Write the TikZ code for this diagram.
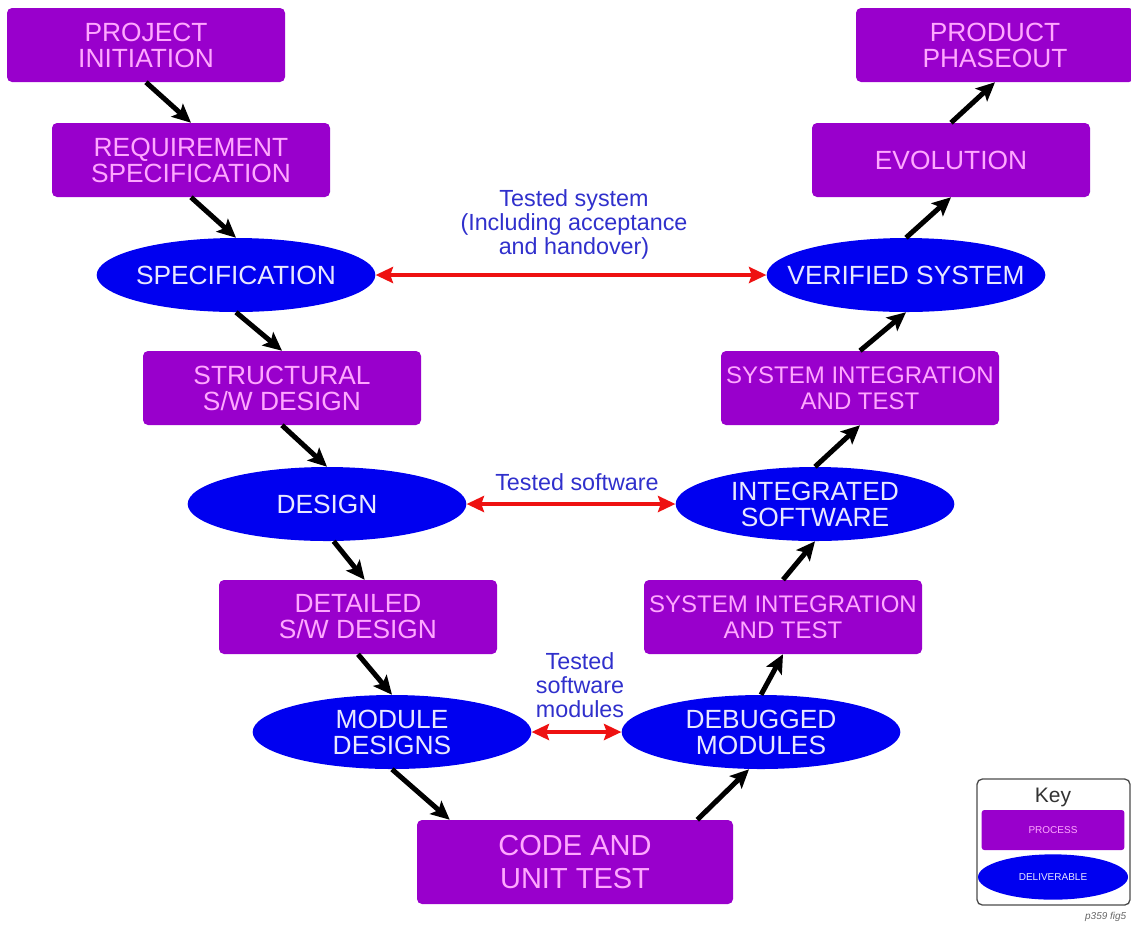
\documentclass[tikz,border=0pt]{standalone}
\usepackage{fontspec}
\setmainfont{Liberation Sans}
\usetikzlibrary{arrows.meta,shapes.geometric}
\definecolor{procfill}{HTML}{9900CC}
\definecolor{proctext}{HTML}{FFA8FF}
\definecolor{delfill}{HTML}{0000F0}
\definecolor{deltext}{HTML}{E8E8FF}
\definecolor{lblblue}{HTML}{3030CC}
\definecolor{redarr}{HTML}{EE1111}
\begin{document}
\begin{tikzpicture}[x=0.75pt,y=-0.75pt,
  proc/.style={rectangle, rounded corners=3.75pt, fill=procfill, text=proctext,
    minimum width=208.5pt, minimum height=55.5pt, align=center, inner sep=0pt,
    font=\fontsize{19.75}{19.5}\selectfont},
  deliv/.style={ellipse, fill=delfill, text=deltext,
    minimum width=209pt, minimum height=55.5pt, align=center, inner xsep=-40pt, inner ysep=-6pt,
    font=\fontsize{19.75}{19.5}\selectfont},
  sitext/.style={font=\fontsize{18}{19.5}\selectfont},
  flow/.style={-{Stealth[length=14pt,width=13pt,inset=3pt]}, line width=3.75pt, black},
  link/.style={{Stealth[length=13pt,width=12pt,inset=2pt]}-{Stealth[length=13pt,width=12pt,inset=2pt]}, line width=3pt, redarr},
  lbl/.style={text=lblblue, align=center, font=\fontsize{17.5}{18}\selectfont}
]
\useasboundingbox (0,0) rectangle (1131,926);
% left branch
\node[proc] (pi) at (146,45) {PROJECT\\INITIATION};
\node[proc] (req) at (191,160) {REQUIREMENT\\SPECIFICATION};
\node[deliv] (spec) at (236,275) {SPECIFICATION};
\node[proc] (sdes) at (282,388) {STRUCTURAL\\S/W DESIGN};
\node[deliv] (des) at (327,504) {DESIGN};
\node[proc] (ddes) at (358,617) {DETAILED\\S/W DESIGN};
\node[deliv] (mod) at (392,732) {MODULE\\DESIGNS};
% bottom
\node[proc, minimum width=237pt, minimum height=63pt, font=\fontsize{21.75}{24.75}\selectfont] (code) at (575,862) {CODE AND\\UNIT TEST};
% right branch
\node[deliv] (dbg) at (761,732) {DEBUGGED\\MODULES};
\node[proc, sitext] (silo) at (783,617) {SYSTEM INTEGRATION\\AND TEST};
\node[deliv] (integ) at (815,504) {INTEGRATED\\SOFTWARE};
\node[proc, sitext] (siup) at (860,388) {SYSTEM INTEGRATION\\AND TEST};
\node[deliv] (verif) at (906,275) {VERIFIED SYSTEM};
\node[proc] (evol) at (951,160) {EVOLUTION};
\node[proc] (pp) at (995,45) {PRODUCT\\PHASEOUT};
% flow arrows
\draw[flow] (pi.south) -- (req.north);
\draw[flow] (req.south) -- (spec.north);
\draw[flow] (spec.south) -- (sdes.north);
\draw[flow] (sdes.south) -- (des.north);
\draw[flow] ([xshift=5pt]des.south) -- ([xshift=5pt]ddes.north);
\draw[flow] (ddes.south) -- (mod.north);
\draw[flow] (mod.south) -- ([xshift=24.75pt]code.north west);
\draw[flow] ([xshift=-27pt]code.north east) -- ([xshift=-9pt]dbg.south);
\draw[flow] (dbg.north) -- (silo.south);
\draw[flow] (silo.north) -- (integ.south);
\draw[flow] (integ.north) -- (siup.south);
\draw[flow] (siup.north) -- (verif.south);
\draw[flow] (verif.north) -- (evol.south);
\draw[flow] (evol.north) -- (pp.south);
% test links
\draw[link] (spec.east) -- (verif.west);
\draw[link] (des.east) -- (integ.west);
\draw[link] (mod.east) -- (dbg.west);
\node[lbl] (l1) at (574,224) {Tested system\\(Including acceptance\\and handover)};
\node[lbl] (l2) at (577,482) {Tested software};
\node[lbl] (l3) at (580,685) {Tested\\software\\modules};
% key
\node[draw=black!70, line width=1pt, rounded corners=4pt, minimum width=114.75pt, minimum height=94.5pt, inner sep=0pt] (keybox) at (1053.5,842) {};
\node[text=black!80, font=\fontsize{15.75}{18}\selectfont] (keyt) at (1053,797) {Key};
\node[proc, minimum width=107pt, minimum height=30pt, rounded corners=2pt, font=\fontsize{7.5}{9}\selectfont] (kp) at (1053,830) {PROCESS};
\node[deliv, minimum width=112.5pt, minimum height=34pt, font=\fontsize{7.5}{9}\selectfont] (kd) at (1053,877) {DELIVERABLE};
\node[text=black!60, font=\fontsize{7.5}{9}\selectfont\itshape, anchor=east] (fig) at (1131,917) {p359 fig5};
\end{tikzpicture}
\end{document}
